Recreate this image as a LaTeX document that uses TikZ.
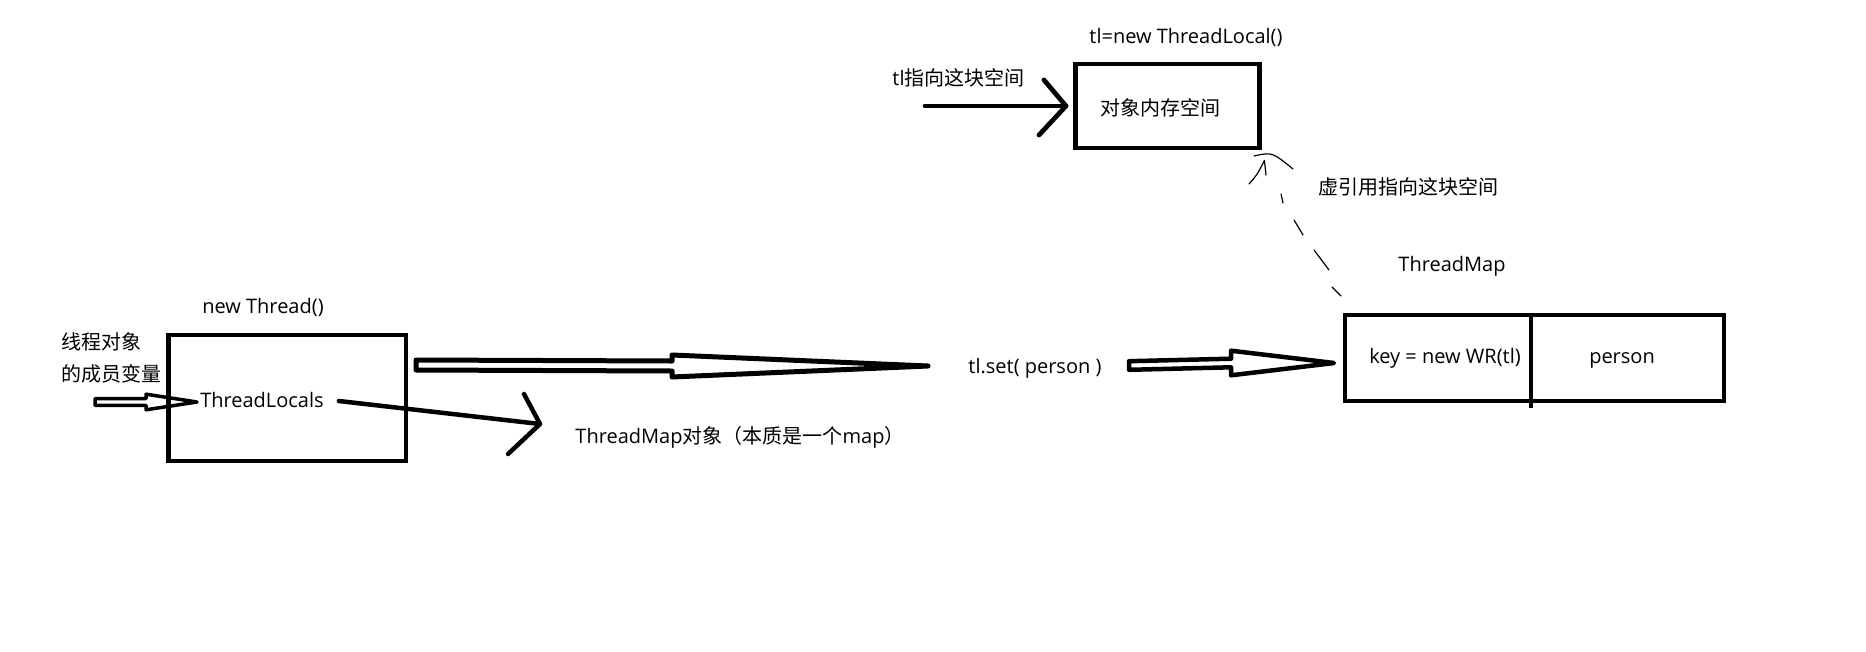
\documentclass[tikz,border=0pt]{standalone}
\usepackage{fontspec}
\setmainfont{Open Sans}
\newfontfamily\cjk{Noto Sans CJK SC}
\usetikzlibrary{calc}
\tikzset{
  txt/.style={inner sep=0pt, font=\fontsize{20}{24}\selectfont},
  boxnode/.style={draw, line width=4.8pt, inner sep=0pt},
  chevron/.style={line width=4.7pt, line cap=round, line join=round},
  thinline/.style={line width=1.2pt, line cap=round},
}
\newcommand\hollowarrow[6]{%
  \draw[line width=#6, line join=round, line cap=round]
    ($(#1)+(0,-#3)$) -- ($(#2)+(-#5,-#3)$) -- ($(#2)+(-#5,-#4)$) -- (#2)
    -- ($(#2)+(-#5,#4)$) -- ($(#2)+(-#5,#3)$) -- ($(#1)+(0,#3)$) -- cycle;}
\begin{document}
\begin{tikzpicture}[x=1pt,y=-1pt]
\path[fill=white,use as bounding box] (0,0) rectangle (1866,651);

% --- top: ThreadLocal object ---
\node[txt] (tlnew) at (1186,37) {tl=new ThreadLocal()};
\node[boxnode, minimum width=184pt, minimum height=84pt] (box1) at (1167.5,106) {};
\node[txt] (mem) at (1160,108) {\cjk 对象内存空间};
\node[txt] (tlpoint) at (958.5,78) {tl{\cjk 指向这块空间}};
\coordinate (tlstart) at (925,106);
\coordinate (tltip) at (1066,106);
\draw[chevron] (tlstart) -- (tltip);
\draw[chevron] (tltip) ++(-22,-26) -- (tltip) -- ++(-27,29);

\node[txt] (phantom) at (1408,187) {\cjk 虚引用指向这块空间};

% --- ThreadMap box ---
\node[txt] (tmap) at (1452,266) {ThreadMap};
\node[boxnode, minimum width=379pt, minimum height=86pt] (map) at (1534.5,358) {};
\coordinate (div) at (1531,408);
\draw[line width=4.8pt] (map.north -| div) -- (div);
\node[txt] (key) at (1445,358) {key = new WR(tl)};
\node[txt] (person) at (1622,360) {person};

% dashed reference from map to object memory
\coordinate (dstart) at (1341,296);
\coordinate (dend) at (1281,194);
\draw[thinline, dash pattern=on 12.7pt off 17.3pt on 25pt off 18.6pt on 17.5pt off 20.2pt on 9.2pt off 60pt]
  (dstart) -- (1332,287) -- (1329,270) -- (1314,250) -- (1303,235) -- (1294,220) -- (1283,203) -- (dend);
\coordinate (dtip) at ($(box1.south east)+(2.5,10)$);
\draw[thinline, line join=round] (1249,184) .. controls (1257,175) .. (dtip) -- (1266,175);
\draw[thinline] (1254,156) .. controls (1272,152) .. (1293,169);

% --- left: Thread object ---
\node[txt] (newthread) at (263,307) {new Thread()};
\node[boxnode, minimum width=237.5pt, minimum height=126pt] (tbox) at (287.25,398) {};
\node[txt] (tlocals) at (262,400) {ThreadLocals};
\node[txt, anchor=west] (member1) at (61,342) {\cjk 线程对象};
\node[txt, anchor=west] (member2) at (61,374) {\cjk 的成员变量};

% small hollow arrow into ThreadLocals
\coordinate (a3s) at (95,402);
\coordinate (a3t) at (197,402);
\hollowarrow{a3s}{a3t}{3.3}{7.8}{51}{3.5pt}

% ThreadLocals -> ThreadMap object
\coordinate (tmtip) at (540,424);
\draw[chevron, line width=4.5pt] ($(tlocals.east)+(15,1)$) -- (tmtip);
\draw[chevron, line width=4.5pt] (tmtip) ++(-16,-30) -- (tmtip) -- ++(-32,30);
\node[txt] (tmobj) at (740,437) {ThreadMap{\cjk 对象（本质是一个}map{\cjk ）}};

% big hollow arrow Thread -> tl.set
\node[txt] (tlset) at (1035,368) {tl.set( person )};
\coordinate (a1s) at (416,365);
\coordinate (a1t) at (928,366);
\hollowarrow{a1s}{a1t}{5}{11}{256}{5pt}

% hollow arrow tl.set -> map
\coordinate (a2s) at (1129,365.5);
\coordinate (a2t) at (1334,363);
\hollowarrow{a2s}{a2t}{4.3}{12.3}{103}{4.5pt}
\end{tikzpicture}
\end{document}
